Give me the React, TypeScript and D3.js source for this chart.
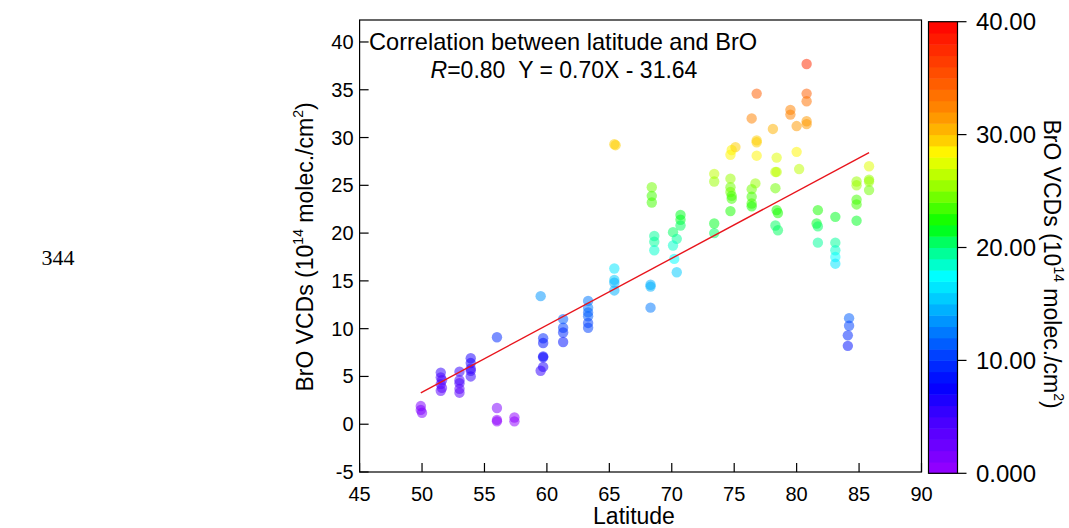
import React from "react";
import * as d3 from "d3";

// ---- data ----
const latitude = [
  49.9, 49.9, 50.0,
  51.5, 51.5, 51.6, 51.5, 51.6, 51.5,
  53.0, 53.0, 53.0, 53.0, 53.0,
  53.9, 53.9, 53.9, 53.9, 53.9,
  56.0, 56.0, 56.0, 56.0,
  57.4, 57.4,
  59.5, 59.7, 59.7, 59.7, 59.7, 59.7, 59.5,
  61.3, 61.3, 61.3, 61.3,
  63.3, 63.3, 63.3, 63.3, 63.3, 63.3,
  65.4, 65.4, 65.4, 65.4, 65.4, 65.5,
  68.3, 68.3, 68.3,
  68.4, 68.4, 68.4, 68.6, 68.6, 68.6,
  70.1, 70.4, 70.1, 70.2, 70.4,
  70.7, 70.7, 70.7,
  73.4, 73.4, 73.4, 73.4,
  74.7, 74.7, 74.7, 74.8, 74.8, 74.7,
  74.7, 74.8, 75.1,
  76.8, 76.4, 76.8, 76.8, 76.8, 76.7, 76.4, 76.4, 76.4, 76.4,
  78.1, 78.4, 78.3, 78.4, 78.3, 78.4, 78.5, 78.3, 78.5,
  79.5, 79.5, 80.0, 80.0, 80.2,
  80.8, 80.8, 80.8, 80.8, 80.8,
  81.7, 81.6, 81.7, 81.7,
  83.1, 83.1, 83.1, 83.1, 83.1,
  84.2, 84.2, 84.1, 84.1,
  84.8, 84.8, 84.8, 84.8, 84.8,
  85.8, 85.8, 85.8, 85.8,
];
const bro = [
  1.9, 1.5, 1.2,
  5.4, 4.9, 4.6, 4.2, 3.8, 3.5,
  5.5, 4.6, 4.3, 3.7, 3.3,
  6.9, 6.4, 5.8, 5.6, 5.0,
  9.1, 1.7, 0.45, 0.3,
  0.7, 0.3,
  13.4, 9.0, 8.5, 7.1, 7.0, 6.0, 5.6,
  11.0, 10.1, 9.6, 8.6,
  12.9, 12.2, 11.7, 11.3, 10.6, 10.1,
  16.3, 15.1, 14.8, 14.0, 29.3, 29.2,
  14.6, 14.4, 12.2,
  24.8, 23.9, 23.2, 19.7, 19.1, 18.2,
  20.1, 19.4, 18.7, 17.3, 15.9,
  21.9, 21.4, 20.8,
  26.2, 25.4, 21.0, 20.0,
  25.7, 24.8, 24.3, 23.9, 23.6, 22.3,
  28.2, 28.7, 29.0,
  34.6, 32.0, 29.7, 29.5, 28.1, 25.2, 24.6, 23.8, 23.1, 22.8,
  30.9, 27.9, 26.4, 26.4, 24.7, 22.4, 22.1, 20.8, 20.3,
  32.9, 32.4, 31.2, 28.5, 26.7,
  37.7, 34.6, 33.8, 31.7, 31.4,
  22.4, 21.0, 20.7, 19.0,
  21.7, 19.0, 18.2, 17.5, 16.8,
  11.1, 10.3, 9.3, 8.2,
  25.4, 25.0, 23.5, 23.0, 21.3,
  27.0, 25.6, 25.4, 24.5,
];

const xTicks = [45, 50, 55, 60, 65, 70, 75, 80, 85, 90];
const yTicks = [-5, 0, 5, 10, 15, 20, 25, 30, 35, 40];
const cbTicks = [0, 10, 20, 30, 40];
const cbTickLabels = ["0.000", "10.00", "20.00", "30.00", "40.00"];
const hueStops = [0, 5, 10, 15, 17.5, 20, 22, 25, 27.5, 29, 30, 32, 35, 40];
const hueValues = [276, 255, 228, 195, 180, 150, 120, 88, 67, 53, 45, 33, 20, 0];
const regSlope = 0.7;
const regIntercept = -31.64;

const FONT = "'Liberation Sans', Arial, sans-serif";

export default function App() {
  const left = 359.6, right = 921.5, top = 20, bottom = 472;
  const x = d3.scaleLinear().domain([45, 90]).range([left, right]);
  const y = d3.scaleLinear().domain([-5, 42.3]).range([bottom, top]);
  const hue = d3.scaleLinear().domain(hueStops).range(hueValues).clamp(true);
  const colorOf = (v: number) => {
    const q = Math.min(39, Math.max(0, Math.floor(v))) + 0.5;
    return d3.hsl(hue(q), 1, 0.5).formatHex();
  };

  const cbX = 928.5, cbW = 29;
  const cb = d3.scaleLinear().domain([0, 40]).range([473.3, 21.7]);
  const bands = d3.range(0, 40);

  const xMin = d3.min(latitude) as number;
  const xMax = d3.max(latitude) as number;
  const linePath = d3.line<number>()
    .x((d) => x(d))
    .y((d) => y(regSlope * d + regIntercept))([xMin, xMax]);

  const axisTitle = (
    <>
      BrO VCDs (10<tspan fontSize={14} dy={-10}>14</tspan><tspan dy={10}> molec./cm</tspan><tspan fontSize={14} dy={-10}>2</tspan><tspan dy={10}>)</tspan>
    </>
  );

  return (
    <svg width={1069} height={528} style={{ position: "absolute", left: 0, top: 0, fontFamily: FONT }}>
      <rect x={0} y={0} width={1069} height={528} fill="#fff" />
      <text x={58} y={257} dy="0.35em" fontFamily="'Liberation Serif', 'DejaVu Serif', serif" fontSize={22} textAnchor="middle">344</text>

      {/* points */}
      <g>
        {latitude.map((lat, i) => (
          <circle key={i} cx={x(lat)} cy={y(bro[i])} r={5.2} fill={colorOf(bro[i])} fillOpacity={0.52} />
        ))}
      </g>

      {/* regression line */}
      <path d={linePath || ""} stroke="#e8141c" strokeWidth={1.4} fill="none" />

      {/* frame */}
      <rect x={left} y={top} width={right - left} height={bottom - top} fill="none" stroke="#000" strokeWidth={1.2} />

      {/* y ticks */}
      {yTicks.map((t) => (
        <g key={"y" + t}>
          <line x1={left} x2={left + 9} y1={y(t)} y2={y(t)} stroke="#000" strokeWidth={1.2} />
          <text x={left - 6} y={y(t)} dy="0.35em" textAnchor="end" fontSize={20}>{t}</text>
        </g>
      ))}
      {/* x ticks */}
      {xTicks.map((t) => (
        <g key={"x" + t}>
          <line x1={x(t)} x2={x(t)} y1={bottom} y2={bottom - 9} stroke="#000" strokeWidth={1.2} />
          <text x={x(t)} y={bottom + 22} dy="0.35em" textAnchor="middle" fontSize={20}>{t}</text>
        </g>
      ))}

      <text x={634} y={516} dy="0.35em" textAnchor="middle" fontSize={23}>Latitude</text>
      <text transform={`translate(305,${(top + bottom) / 2 + 1}) rotate(-90)`} textAnchor="middle" dy="0.35em" fontSize={23}>
        {axisTitle}
      </text>

      {/* titles */}
      <text x={369} y={42} dy="0.35em" fontSize={23.6}>Correlation between latitude and BrO</text>
      <text x={564} y={70} dy="0.35em" textAnchor="middle" fontSize={23}>
        <tspan fontStyle="italic">R</tspan>=0.80{"\u00a0\u00a0"}Y = 0.70X - 31.64
      </text>

      {/* colorbar */}
      <g>
        {bands.map((b) => (
          <rect key={b} x={cbX} y={cb(b + 1)} width={cbW} height={cb(b) - cb(b + 1) + 0.5} fill={colorOf(b)} />
        ))}
        <rect x={cbX} y={cb(40)} width={cbW} height={cb(0) - cb(40)} fill="none" stroke="#000" strokeWidth={1.2} />
        {cbTicks.map((t, i) => (
          <g key={"c" + t}>
            <line x1={cbX + cbW} x2={cbX + cbW + 9} y1={cb(t)} y2={cb(t)} stroke="#000" strokeWidth={1.2} />
            <text x={976} y={cb(t)} dy="0.35em" fontSize={24}>{cbTickLabels[i]}</text>
          </g>
        ))}
        <text transform={`translate(1052,${(top + bottom) / 2 + 18}) rotate(90)`} textAnchor="middle" dy="0.35em" fontSize={23}>
          {axisTitle}
        </text>
      </g>
    </svg>
  );
}
